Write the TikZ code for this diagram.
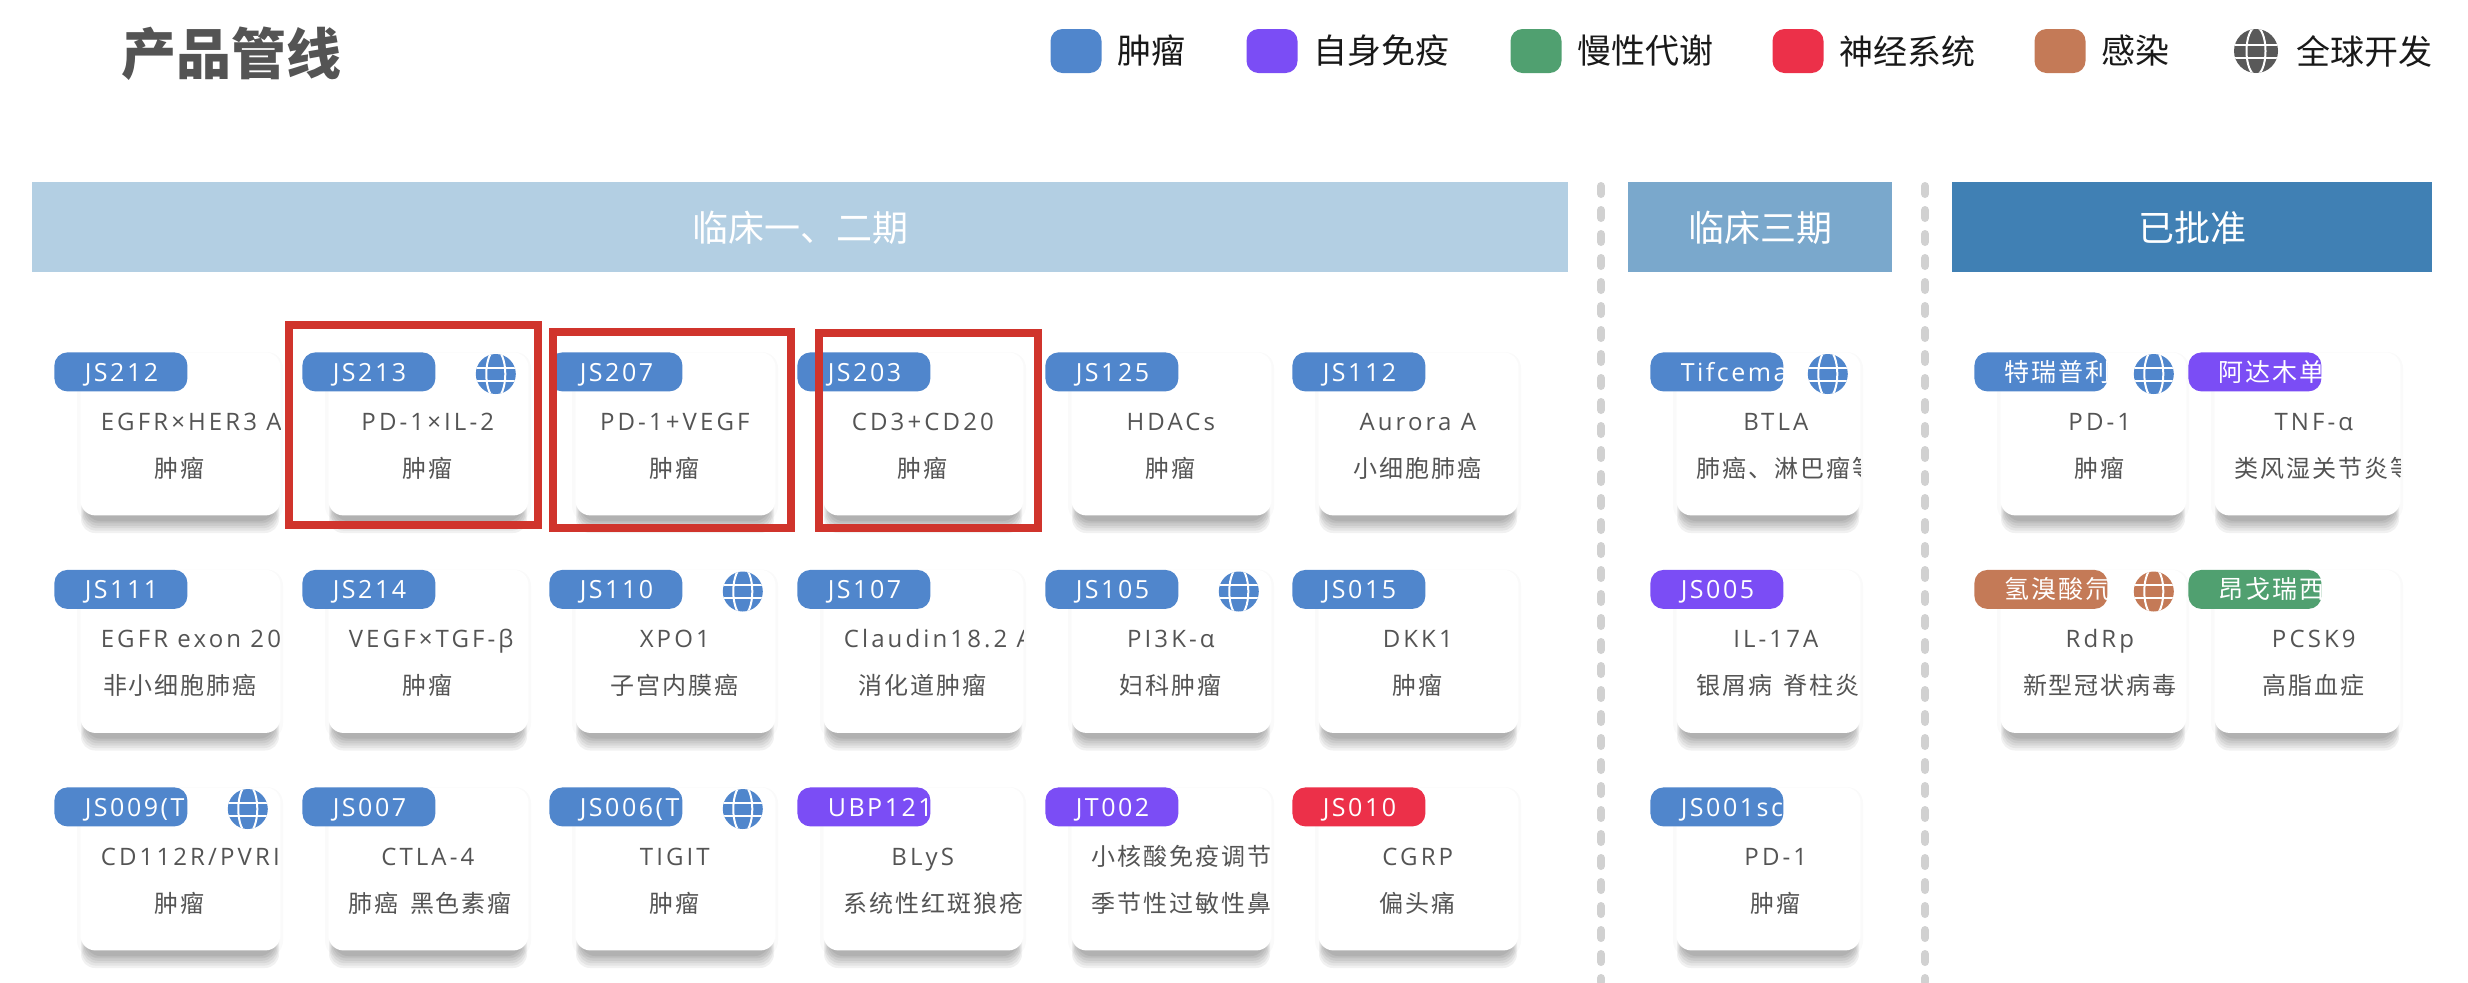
\documentclass[tikz,border=0pt]{standalone}
\usepackage{fontspec}
\setmainfont{Noto Sans CJK SC}
\newfontfamily\cjkfont{Noto Sans CJK SC}[LetterSpace=8]
\newfontfamily\tagfont{Open Sans}[LetterSpace=10]
\newfontfamily\cardfont{Open Sans}[LetterSpace=13]
\usepackage{tikz}
\usetikzlibrary{calc,positioning}
\definecolor{tumor}{HTML}{5086CC}
\definecolor{immune}{HTML}{7B4DF5}
\definecolor{metab}{HTML}{50A070}
\definecolor{neuro}{HTML}{EC3049}
\definecolor{infect}{HTML}{C47A57}
\definecolor{redline}{HTML}{D0342C}
\definecolor{phaseone}{HTML}{B3CFE3}
\definecolor{phasethree}{HTML}{7AA8CC}
\definecolor{approved}{HTML}{4080B4}
\newcommand{\fitline}[1]{\hbox to 79pt{\hskip 0pt plus 1fil #1\hskip 0pt plus 1fil minus 500pt}}

\begin{document}
\begin{tikzpicture}[x=0.5pt,y=-0.5pt]
\tikzset{
	card/.style = {fill = white, rounded corners = 7.5pt, inner sep = 0, anchor = north west, minimum height = 81.5pt},
	tagbox/.style = {rounded corners = 6.5pt, inner sep = 0, anchor = north west, minimum width = 66.5pt, minimum height = 19.5pt},
	tagtext/.style = {inner sep = 0, minimum width = 0, minimum height = 0, anchor = base west, text = white, font = \tagfont\fontsize{12.5}{15}\selectfont},
	cardtext/.style = {inner sep = 0, minimum width = 0, minimum height = 0, anchor = base west, text = black!67, font = \fontsize{12}{15}\selectfont},
	globe/.style = {circle, inner sep = 0, minimum size = 20pt, path picture = {
		\draw [white, line width = 1pt] (path picture bounding box.center) ellipse (9.5 and 24);
		\draw [white, line width = 1pt] ($(path picture bounding box.center)+(-30,-6.5)$) -- ($(path picture bounding box.center)+(30,-6.5)$);
		\draw [white, line width = 1pt] ($(path picture bounding box.center)+(-30,6.5)$) -- ($(path picture bounding box.center)+(30,6.5)$);
	}},
	swatch/.style = {rounded corners = 6pt, inner sep = 0, minimum width = 25.5pt, minimum height = 22pt},
	legendtext/.style = {inner sep = 0, text = black!90, font = \fontsize{17}{20}\selectfont},
	headbar/.style = {inner sep = 0, anchor = north west, minimum height = 45pt, text = white, font = \fontsize{18}{22}\selectfont},
	divider/.style = {line width = 4pt, black!18, line cap = round, dash pattern = on 4pt off 8pt},
	redbox/.style = {draw = redline, line width = 4pt, inner sep = 0, outer sep = 0, anchor = north west},
}
\useasboundingbox (0,0) rectangle (2468,982);

\node (title) [inner sep = 0, text = black!67, font = \bfseries\fontsize{27.5}{32}\selectfont] at (231,54) {产品管线};

\foreach \lx/\nm/\cl/\lb in {1076/l1/tumor/肿瘤, 1272/l2/immune/自身免疫, 1536/l3/metab/慢性代谢, 1798/l4/neuro/神经系统, 2060/l5/infect/感染}{
	\node (\nm) [swatch, fill = \cl] at (\lx,51) {};
	\node (\nm-t) [legendtext, right = 7.5pt of \nm] {\lb};
}
\node (l6) [globe, fill = black!65, minimum size = 22pt] at (2256,51) {};
\node (l6-t) [legendtext, right = 9pt of l6] {全球开发};

\node (h1) [headbar, minimum width = 768pt, fill = phaseone] at (32,182) {临床一、二期};
\node (h2) [headbar, minimum width = 132pt, fill = phasethree] at (1628,182) {临床三期};
\node (h3) [headbar, minimum width = 240pt, fill = approved] at (1952,182) {已批准};

\coordinate (d1a) at (1601,186);
\coordinate (d1b) at (1601,982);
\coordinate (d2a) at (1925,186);
\coordinate (d2b) at (1925,982);
\draw [divider] (d1a) -- (d1b);
\draw [divider] (d2a) -- (d2b);

\foreach \tx/\ty/\cw/\nm/\cl/\tg/\ta/\di in {
	54/352/200/c11/tumor/JS212/EGFR×HER3 A/肿瘤,
	302/352/200/c12/tumor/JS213/PD-1×IL-2/肿瘤,
	549/352/200/c13/tumor/JS207/PD-1+VEGF/肿瘤,
	797/352/200/c14/tumor/JS203/CD3+CD20/肿瘤,
	1045/352/200/c15/tumor/JS125/HDACs/肿瘤,
	1292/352/200/c16/tumor/JS112/Aurora A/小细胞肺癌,
	54/569.5/200/c21/tumor/JS111/EGFR exon 20/非小细胞肺癌,
	302/569.5/200/c22/tumor/JS214/VEGF×TGF-β/肿瘤,
	549/569.5/200/c23/tumor/JS110/XPO1/子宫内膜癌,
	797/569.5/200/c24/tumor/JS107/Claudin18.2 A/消化道肿瘤,
	1045/569.5/200/c25/tumor/JS105/PI3K-α/妇科肿瘤,
	1292/569.5/200/c26/tumor/JS015/DKK1/肿瘤,
	54/787/200/c31/tumor/JS009(T/{CD112R/PVRI}/肿瘤,
	302/787/200/c32/tumor/JS007/CTLA-4/肺癌\, 黑色素瘤,
	549/787/200/c33/tumor/JS006(T/TIGIT/肿瘤,
	797/787/200/c34/immune/UBP121/BLyS/系统性红斑狼疮,
	1045/787/200/c35/immune/JT002/{\cjkfont 小核酸免疫调节}/季节性过敏性鼻,
	1292/787/200/c36/neuro/JS010/CGRP/偏头痛,
	1650/352/184/p1/tumor/Tifcema/BTLA/肺癌、淋巴瘤等,
	1650/569.5/184/p2/immune/JS005/IL-17A/银屑病\, 脊柱炎,
	1650/787/184/p3/tumor/JS001sc/PD-1/肿瘤,
	1974/352/186/q1/tumor/{\cjkfont 特瑞普利}/PD-1/肿瘤,
	2188/352/186/q2/immune/{\cjkfont 阿达木单}/TNF-α/类风湿关节炎等,
	1974/569.5/186/q3/infect/{\cjkfont 氢溴酸氘}/RdRp/新型冠状病毒,
	2188/569.5/186/q4/metab/{\cjkfont 昂戈瑞西}/PCSK9/高脂血症}{
	\foreach \s in {0,...,5}
		\fill [black, opacity = 0.055, rounded corners = 7pt] ({\tx+27+\s},{\ty+20}) rectangle ({\tx+25+\cw-\s},{\ty+181-2.4*\s});
	\fill [black, opacity = 0.02, rounded corners = 8pt] ({\tx+23},{\ty}) rectangle ({\tx+29+\cw},{\ty+170});
	\node (\nm) [card, minimum width = \cw*0.5pt, path picture = {
		\node (\nm-a) [cardtext] at ($(path picture bounding box.north west)+(20,78)$) {\fitline{\cardfont\ta}};
		\node (\nm-b) [cardtext] at ($(path picture bounding box.north west)+(20,125)$) {\fitline{\cjkfont\di}};
	}] at ({\tx+26},\ty) {};
	\node (\nm-tag) [tagbox, fill = \cl, path picture = {
		\node (\nm-tagtext) [tagtext] at ($(path picture bounding box.north west)+(30,29)$) {\tg};
	}] at (\tx,\ty) {};
}

\foreach \nm/\cl in {c12/tumor, c23/tumor, c25/tumor, c31/tumor, c33/tumor, p1/tumor, q1/tumor, q3/infect}
	\node (\nm-globe) [globe, fill = \cl] at ($(\nm.north east)+(-33,22)$) {};

\node (r1) [redbox, minimum width = 124.5pt, minimum height = 100pt] at (289,325) {};
\node (r2) [redbox, minimum width = 119pt, minimum height = 98pt] at (553,332) {};
\node (r3) [redbox, minimum width = 109.5pt, minimum height = 97.5pt] at (819,333) {};

\end{tikzpicture}
\end{document}
